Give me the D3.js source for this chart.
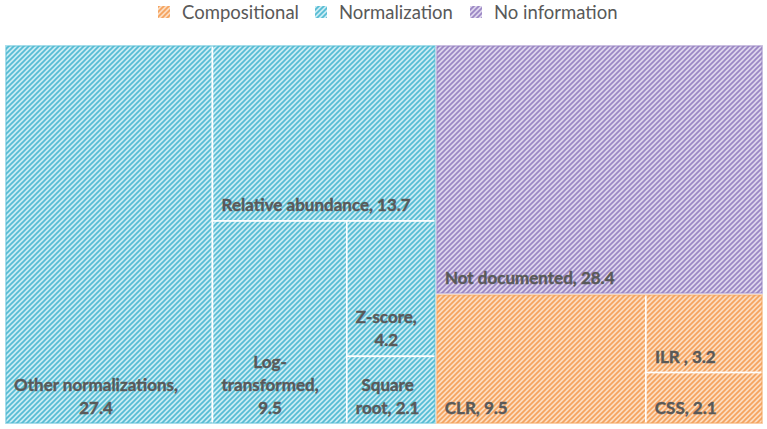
<!DOCTYPE html>
<html>
<head>
<meta charset="utf-8">
<script src="https://cdn.jsdelivr.net/npm/d3@7"></script>
<style>
  body { margin: 0; background: #fff; }
  svg { display: block; font-family: Lato, "Open Sans", sans-serif; }
</style>
</head>
<body>
<svg id="chart" width="767" height="429"></svg>
<script>
'use strict';

// Data
var groups = ['Compositional', 'Normalization', 'No information'];
var names = ['Other normalizations', 'Relative abundance', 'Log-transformed', 'Z-score', 'Square root',
             'Not documented', 'CLR', 'ILR ', 'CSS'];
var values = [27.4, 13.7, 9.5, 4.2, 2.1, 28.4, 9.5, 3.2, 2.1];
var parents = ['Normalization', 'Normalization', 'Normalization', 'Normalization', 'Normalization',
               'No information', 'Compositional', 'Compositional', 'Compositional'];
// how the labels are wrapped in the picture
var labelLines = [
  ['Other normalizations,', '27.4'],
  ['Relative abundance, 13.7'],
  ['Log-', 'transformed,', '9.5'],
  ['Z-score,', '4.2'],
  ['Square', 'root, 2.1'],
  ['Not documented, 28.4'],
  ['CLR, 9.5'],
  ['ILR , 3.2'],
  ['CSS, 2.1']
];

var fills = {
  'Compositional':  { bg: '#fcdcc0', line: '#f5a35e' },
  'Normalization':  { bg: '#c9ebf3', line: '#55bcd4' },
  'No information': { bg: '#ddd4ec', line: '#9a86c4' }
};

var svg = d3.select('#chart');
var defs = svg.append('defs');

//Hatch patterns, one per group
groups.forEach(function(g, i){
  var p = defs.append('pattern')
    .attr('id', 'hatch' + i)
    .attr('patternUnits', 'userSpaceOnUse')
    .attr('width', 5).attr('height', 5);
  p.append('rect').attr('width', 5).attr('height', 5).attr('fill', fills[g].bg);
  p.append('path')
    .attr('d', 'M0,5 L5,0 M-1,1 L1,-1 M4,6 L6,4')
    .attr('stroke', fills[g].line)
    .attr('stroke-width', 1.7);
});

//Legend
var legendX = [158, 315, 470];
var legend = svg.append('g');
groups.forEach(function(g, i){
  legend.append('rect')
    .attr('x', legendX[i]).attr('y', 6)
    .attr('width', 12).attr('height', 12)
    .attr('fill', 'url(#hatch' + i + ')');
  legend.append('text')
    .attr('x', legendX[i] + 24).attr('y', 19)
    .attr('font-size', 18.5)
    .attr('fill', '#595959')
    .text(g);
});

//Hierarchy
var table = [{ id: 'root', parent: '' }];
groups.forEach(function(g){ table.push({ id: g, parent: 'root' }); });
names.forEach(function(n, i){
  table.push({ id: n, parent: parents[i], value: values[i], idx: i });
});

var root = d3.stratify().id(function(d){ return d.id; }).parentId(function(d){ return d.parent; })(table)
  .sum(function(d){ return d.value || 0; })
  .sort(function(a, b){ return b.value - a.value; });

d3.treemap()
  .tile(d3.treemapSquarify.ratio(1))
  .size([758, 379])
  .round(false)(root);

var plot = svg.append('g').attr('transform', 'translate(5,45)');

//Leaves
var leaf = plot.selectAll('g.leaf')
  .data(root.leaves())
  .join('g')
  .attr('class', 'leaf');

leaf.append('rect')
  .attr('x', function(d){ return d.x0; })
  .attr('y', function(d){ return d.y0; })
  .attr('width', function(d){ return d.x1 - d.x0; })
  .attr('height', function(d){ return d.y1 - d.y0; })
  .attr('fill', function(d){ return 'url(#hatch' + groups.indexOf(d.parent.id) + ')'; });

//Soft edge round each group
plot.selectAll('rect.grp')
  .data(root.children)
  .join('rect')
  .attr('class', 'grp')
  .attr('x', function(d){ return d.x0 + 1; })
  .attr('y', function(d){ return d.y0 + 1; })
  .attr('width', function(d){ return d.x1 - d.x0 - 2; })
  .attr('height', function(d){ return d.y1 - d.y0 - 2; })
  .attr('fill', 'none')
  .attr('stroke', function(d){ return fills[d.id].line; })
  .attr('stroke-opacity', 0.45)
  .attr('stroke-width', 2);

//White separators
leaf.append('rect')
  .attr('x', function(d){ return d.x0; })
  .attr('y', function(d){ return d.y0; })
  .attr('width', function(d){ return d.x1 - d.x0; })
  .attr('height', function(d){ return d.y1 - d.y0; })
  .attr('fill', 'none')
  .attr('stroke', '#fff')
  .attr('stroke-width', 1.6);

//Labels
var lineH = 23;
leaf.each(function(d){
  var lines = labelLines[d.data.idx];
  var t = d3.select(this).append('text')
    .attr('font-size', 17)
    .attr('font-weight', 'bold')
    .attr('fill', '#595959')
    .attr('stroke', '#595959')
    .attr('stroke-width', 0.4)
    .attr('text-anchor', 'middle');
  lines.forEach(function(s, k){
    t.append('tspan')
      .attr('x', 0)
      .attr('y', d.y1 - 10 - (lines.length - 1 - k) * lineH)
      .text(s);
  });
  //center lines on the widest one, block starts at left padding
  var w = t.node().getBBox().width;
  t.selectAll('tspan').attr('x', d.x0 + 9 + w / 2);
});
</script>
</body>
</html>
